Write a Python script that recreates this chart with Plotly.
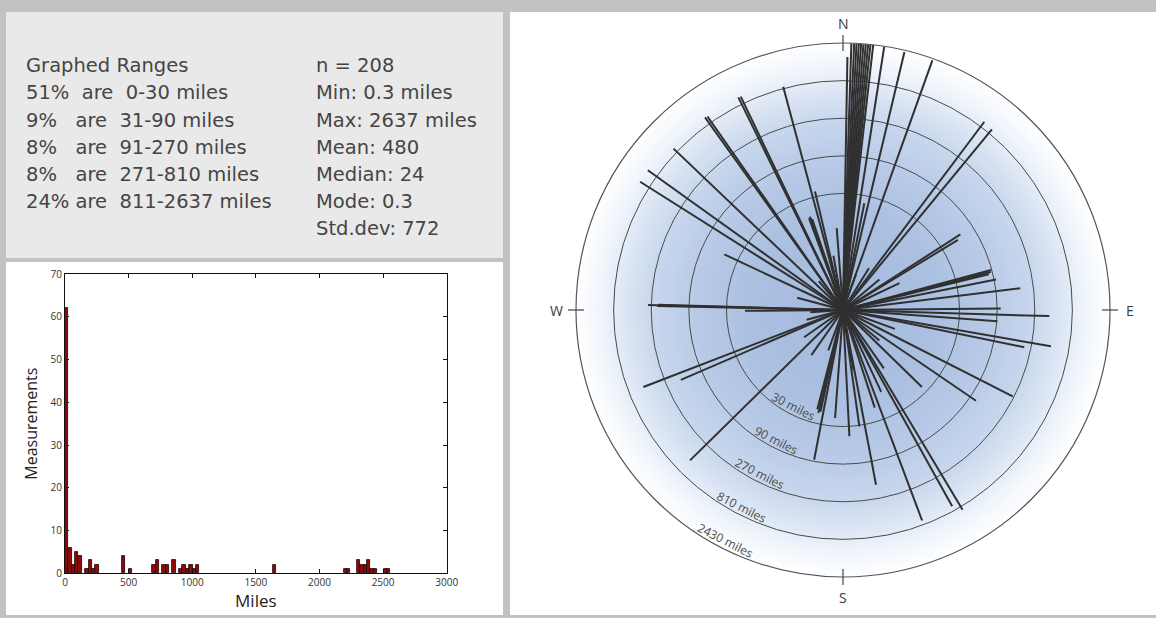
import math
import plotly.graph_objects as go

# ---------------- data ----------------
range_lines = ["Graphed Ranges", "51%  are  0-30 miles", "9%   are  31-90 miles",
               "8%   are  91-270 miles", "8%   are  271-810 miles", "24% are  811-2637 miles"]
stat_lines = ["n = 208", "Min: 0.3 miles", "Max: 2637 miles", "Mean: 480",
              "Median: 24", "Mode: 0.3", "Std.dev: 772"]

# histogram (100 bins of ~26.37 miles); only non-empty bins listed
BIN_WIDTH = 26.37
bin_start = [0.3, 26.7, 53.0, 79.4, 105.8, 158.5, 184.9, 211.3, 237.6,
             448.6, 501.3, 685.9, 712.3, 765.0, 791.4, 844.1,
             896.9, 923.2, 949.6, 976.0, 1002.4, 1028.7, 1635.2,
             2189.1, 2215.4, 2294.5, 2320.9, 2347.2, 2373.6, 2400.0, 2426.3,
             2505.4, 2531.8]
bin_count = [62, 6, 2, 5, 4, 1, 3, 1, 2,
             4, 1, 2, 3, 2, 2, 3,
             1, 2, 1, 2, 1, 2, 2,
             1, 1, 3, 2, 2, 3, 1, 1,
             1, 1]
hist_xticks = [0, 500, 1000, 1500, 2000, 2500, 3000]
hist_yticks = [0, 10, 20, 30, 40, 50, 60, 70]

# rose: bearing (deg clockwise from N) and distance (miles) of each measurement
bearings = [1.0, 1.8, 2.4, 2.9, 3.4, 3.9, 4.4, 4.9, 5.4, 5.9, 6.5,
            8.9, 13.4, 19.7, 11.3, 31.8, 36.9, 39.5, 57.2, 58.6, 64.6,
            74.9, 75.6, 76.2, 78.7, 83.0, 89.5, 91.7, 94.2, 99.9, 101.6,
            117.0, 124.3, 134.3, 149.1, 150.9, 159.4, 169.3, 177.1, 172.0,
            155.0, 162.0, 145.0,
            184.2, 190.9, 192.5, 193.5, 194.5, 225.5, 246.7, 248.9,
            266.0, 269.5, 271.2, 271.6, 271.5,
            295.1, 302.3, 305.6, 313.6, 324.4, 325.0, 333.8, 334.4,
            339.7, 340.5, 341.3, 345.0, 346.7, 355.6,
            20.0, 50.0, 110.0, 130.0, 200.0, 215.0, 235.0, 255.0, 285.0, 320.0, 350.0, 170.0]
distances = [1620, 2420, 2400, 2420, 2410, 2420, 2400, 2420, 2410, 2420, 2420,
             2400, 2300, 2300, 24, 4.2, 966, 930, 59, 51, 6.2,
             88, 86, 80, 95, 184, 100, 414, 92, 474, 222,
             260, 110, 25, 896, 703, 710, 180, 40, 31,
             14, 20, 8,
             23.6, 86, 21, 22, 20, 525, 173, 517,
             2.6, 17.5, 228, 220, 297,
             46, 1105, 1105, 927, 1012, 990, 1012, 1000,
             17.5, 18, 16.5, 850, 35, 11,
             3, 4, 5, 4, 3.5, 5, 4, 3, 4, 3, 5, 6]

ring_miles = [30, 90, 270, 810, 2430]
ring_labels = ["30 miles", "90 miles", "270 miles", "810 miles", "2430 miles"]
compass_labels = ["N", "E", "S", "W"]
compass_bearings = [0, 90, 180, 270]

# ---------------- layout geometry ----------------
W, H = 1156, 618
CX, CY, R = 843, 310, 267
RMAX = 2430


def px(x):
    return x / W


def py(y):
    return 1 - y / H


fig = go.Figure()

fig.add_trace(go.Bar(
    x=[s + BIN_WIDTH / 2 for s in bin_start], y=bin_count, width=BIN_WIDTH,
    marker=dict(color="#8f0a0a", line=dict(color="#1a0000", width=0.8)),
    xaxis="x", yaxis="y", showlegend=False, hoverinfo="x+y"))

rr, tt = [], []
for b, d in zip(bearings, distances):
    rr += [1, d, None]
    tt += [b, b, None]
fig.add_trace(go.Scatterpolar(
    r=rr, theta=tt, mode="lines", line=dict(color="#303030", width=2.0),
    showlegend=False, hoverinfo="skip", subplot="polar"))

shapes = []
shapes.append(dict(type="rect", xref="paper", yref="paper", x0=px(6), x1=px(503), y0=py(258), y1=py(12),
                   fillcolor="#e9e9e9", line=dict(width=0), layer="below"))
shapes.append(dict(type="rect", xref="paper", yref="paper", x0=px(6), x1=px(503), y0=py(615), y1=py(262),
                   fillcolor="#ffffff", line=dict(width=0), layer="below"))
shapes.append(dict(type="rect", xref="paper", yref="paper", x0=px(510), x1=px(1156), y0=py(615), y1=py(12),
                   fillcolor="#ffffff", line=dict(width=0), layer="below"))

stops = [(0, (162, 184, 220)), (100, (172, 193, 225)), (150, (184, 202, 231)),
         (190, (199, 214, 237)), (220, (219, 229, 243)), (245, (240, 245, 251)), (270, (255, 255, 255))]


def grad(r):
    for (r0, c0), (r1, c1) in zip(stops[:-1], stops[1:]):
        if r0 <= r <= r1:
            f = (r - r0) / (r1 - r0)
            return "rgb(%d,%d,%d)" % tuple(round(a + (b - a) * f) for a, b in zip(c0, c1))
    return "rgb(255,255,255)"


for k in range(54, 0, -1):
    r = k * 5
    shapes.append(dict(type="circle", xref="paper", yref="paper",
                       x0=px(CX - r), x1=px(CX + r), y0=py(CY + r), y1=py(CY - r),
                       fillcolor=grad(r), line=dict(width=0), layer="below"))

for b in compass_bearings:
    s, c = math.sin(math.radians(b)), math.cos(math.radians(b))
    r0, r1 = R - 8, R + 8
    shapes.append(dict(type="line", xref="paper", yref="paper",
                       x0=px(CX + r0 * s), y0=py(CY - r0 * c), x1=px(CX + r1 * s), y1=py(CY - r1 * c),
                       line=dict(color="#444444", width=1.2)))

annotations = []
TXT = dict(family="DejaVu Sans", size=19.5, color="#454545")
for i, t in enumerate(range_lines):
    annotations.append(dict(text=t.replace(" ", "\u00a0"), xref="paper", yref="paper", x=px(24), y=py(66 + 27 * i),
                            xanchor="left", yanchor="middle", showarrow=False, font=TXT))
for i, t in enumerate(stat_lines):
    annotations.append(dict(text=t.replace(" ", "\u00a0"), xref="paper", yref="paper", x=px(314), y=py(66 + 27 * i),
                            xanchor="left", yanchor="middle", showarrow=False, font=TXT))

for lab, b in zip(compass_labels, compass_bearings):
    s, c = math.sin(math.radians(b)), math.cos(math.radians(b))
    rl = R + 20
    annotations.append(dict(text=lab, xref="paper", yref="paper", x=px(CX + rl * s), y=py(CY - rl * c),
                            xanchor="center", yanchor="middle", showarrow=False,
                            font=dict(family="Open Sans", size=14, color="#3a3a3a")))

LB = 207
for v, lab in zip(ring_miles, ring_labels):
    rp = R * math.log10(v) / math.log10(RMAX) - 8
    s, c = math.sin(math.radians(LB)), math.cos(math.radians(LB))
    annotations.append(dict(text=lab, xref="paper", yref="paper", x=px(CX + rp * s), y=py(CY - rp * c),
                            xanchor="center", yanchor="middle", showarrow=False, textangle=LB - 180,
                            font=dict(family="Open Sans", size=12, color="#4a4a4a")))

AX = dict(showline=True, linecolor="#111111", linewidth=1, mirror="ticks", ticks="inside", ticklen=4,
          tickcolor="#111111", showgrid=False, zeroline=False, automargin=False,
          tickfont=dict(family="Open Sans", size=10, color="#333333"))

fig.update_layout(
    width=W, height=H, margin=dict(l=0, r=0, t=0, b=0, pad=0, autoexpand=False),
    paper_bgcolor="#c2c2c2", plot_bgcolor="#ffffff",
    bargap=0,
    xaxis=dict(domain=[px(65), px(446.7)], range=[0, 3000], tickvals=hist_xticks, anchor="y",
               title=dict(text="Miles", font=dict(family="Open Sans", size=17, color="#222222"), standoff=5),
               **AX),
    yaxis=dict(domain=[py(573.3), py(274)], range=[0, 70], tickvals=hist_yticks, anchor="x",
               title=dict(text="Measurements", font=dict(family="Open Sans", size=16, color="#222222"), standoff=8),
               **AX),
    polar=dict(
        domain=dict(x=[px(CX - R), px(CX + R)], y=[py(CY + R), py(CY - R)]),
        bgcolor="rgba(0,0,0,0)",
        radialaxis=dict(type="log", range=[0, math.log10(RMAX)], tickvals=ring_miles[:-1],
                        showticklabels=False, ticks="", showline=False,
                        gridcolor="#4a4a4a", gridwidth=1.3),
        angularaxis=dict(rotation=90, direction="clockwise", showgrid=False, showticklabels=False,
                         ticks="", showline=True, linecolor="#555555", linewidth=1.2),
    ),
    shapes=shapes, annotations=annotations,
)

fig.write_html("out.html", config={"displayModeBar": False},
               post_script="document.body.style.margin='0';document.body.style.overflow='hidden';")
